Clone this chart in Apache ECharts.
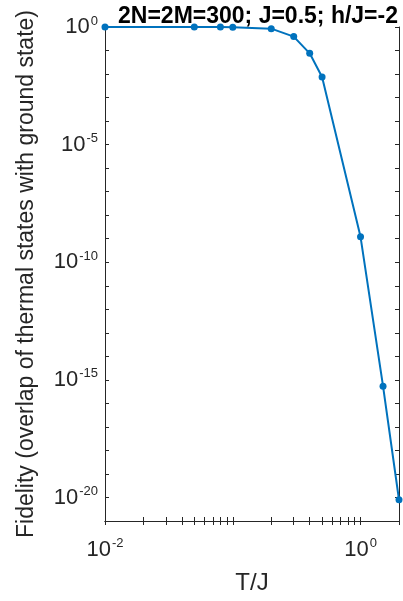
<!DOCTYPE html>
<html><head><meta charset="utf-8">
<script src="https://cdn.jsdelivr.net/npm/echarts@6/dist/echarts.min.js"></script>
<style>html,body{margin:0;padding:0;background:#fff}#c{width:403px;height:601px}</style>
</head><body><div id="c"></div>
<script>
// Data
var temperatures = [0.01, 0.05, 0.08, 0.1, 0.2, 0.3, 0.4, 0.5, 1.0, 1.5, 2.0];
var fidelity = [1.0, 1.0, 0.99, 0.98, 0.85, 0.39, 0.076, 0.0075, 1.2e-9, 5.4e-16, 8e-21];
var xLabelTicks = [0.01, 1];
var yLabelTicks = [1e-20, 1e-15, 1e-10, 1e-5, 1];
var titleText = '2N=2M=300; J=0.5; h/J=-2';
var xName = 'T/J';
var yName = 'Fidelity (overlap of thermal states with ground state)';

var xMinorTicks = [];
[0.01, 0.1, 1].forEach(function (d) { for (var k = 1; k <= 9; k++) { var v = +(d * k).toPrecision(3); if (v <= 2) xMinorTicks.push(v); } });
var yDecadeTicks = [];
for (var e = -21; e <= 0; e++) yDecadeTicks.push(Math.pow(10, e));

var FONT = '"Liberation Sans", Arial, Helvetica, sans-serif';
var AX = '#262626';
function fmt(v) {
  var ex = Math.round(Math.log10(v));
  return '{b|10}{s|' + ex + '}';
}
var rich = {
  b: { fontSize: 22, fontFamily: FONT, color: AX },
  s: { fontSize: 13, fontFamily: FONT, color: AX, padding: [0, 0, 12, 1] }
};

var chart = echarts.init(document.getElementById('c'));
var baseX = {
  type: 'log', logBase: 10, min: 0.01, max: 2,
  axisLine: { show: true, lineStyle: { color: AX, width: 1 } },
  axisTick: { show: true, inside: true, length: 4, customValues: xMinorTicks, lineStyle: { color: AX } },
  splitLine: { show: false }, minorTick: { show: false }
};
var baseY = {
  type: 'log', logBase: 10, min: 1e-21, max: 1,
  axisLine: { show: true, lineStyle: { color: AX, width: 1 } },
  axisTick: { show: true, inside: true, length: 4, customValues: yDecadeTicks, lineStyle: { color: AX } },
  splitLine: { show: false }, minorTick: { show: false }
};
chart.setOption({
  animation: false,
  backgroundColor: '#fff',
  title: {
    text: titleText, left: 253, top: 0, textAlign: 'center',
    textStyle: { fontFamily: FONT, fontSize: 23, fontWeight: 'bold', color: '#000' }
  },
  grid: { left: 105, right: 4, top: 27, bottom: 80, containLabel: false, outerBoundsMode: 'none' },
  xAxis: [
    Object.assign({}, baseX, {
      position: 'bottom',
      name: xName, nameLocation: 'middle', nameGap: 50,
      nameTextStyle: { fontFamily: FONT, fontSize: 24, color: AX },
      axisLabel: { show: true, margin: 16, customValues: xLabelTicks, formatter: fmt, rich: rich }
    }),
    Object.assign({}, baseX, { position: 'top', axisLabel: { show: false } })
  ],
  yAxis: [
    Object.assign({}, baseY, {
      position: 'left',
      name: yName, nameLocation: 'middle', nameGap: 67, nameRotate: 90,
      nameTextStyle: { fontFamily: FONT, fontSize: 23, color: AX },
      axisLabel: { show: true, margin: 7, customValues: yLabelTicks, formatter: fmt, rich: rich }
    }),
    Object.assign({}, baseY, { position: 'right', axisLabel: { show: false } })
  ],
  series: [{
    type: 'line', xAxisIndex: 0, yAxisIndex: 0,
    data: temperatures.map(function (t, i) { return [t, fidelity[i]]; }),
    symbol: 'circle', symbolSize: 7, clip: false,
    lineStyle: { color: '#0072BD', width: 2 },
    itemStyle: { color: '#0072BD' }
  }]
});
</script></body></html>
